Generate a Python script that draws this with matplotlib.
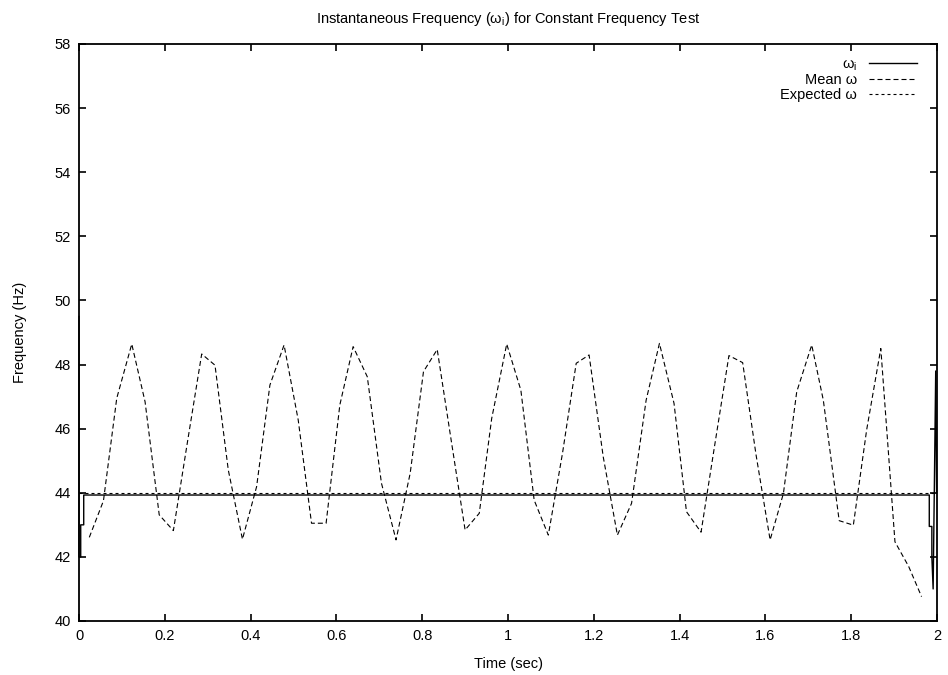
import matplotlib
matplotlib.use('Agg')
import matplotlib.pyplot as plt

plt.rcParams['font.family'] = ['Liberation Sans', 'DejaVu Sans']
plt.rcParams['mathtext.fontset'] = 'custom'
plt.rcParams['mathtext.rm'] = 'Liberation Sans'
plt.rcParams['mathtext.it'] = 'Liberation Sans:italic'

# mean omega
mean_t = [0.024, 0.057, 0.088, 0.123, 0.154, 0.187, 0.220, 0.253, 0.286, 0.317,
          0.348, 0.381, 0.414, 0.445, 0.478, 0.511, 0.542, 0.576, 0.608, 0.639,
          0.672, 0.705, 0.739, 0.772, 0.803, 0.835, 0.868, 0.900, 0.933, 0.962,
          0.997, 1.030, 1.061, 1.094, 1.127, 1.159, 1.189, 1.222, 1.255, 1.288,
          1.322, 1.353, 1.387, 1.416, 1.450, 1.482, 1.515, 1.547, 1.578, 1.611,
          1.642, 1.673, 1.708, 1.735, 1.772, 1.805, 1.836, 1.869, 1.902, 1.934,
          1.964]
mean_f = [42.61, 43.75, 46.95, 48.64, 46.84, 43.31, 42.82, 45.6, 48.33, 47.98,
          44.71, 42.55, 44.19, 47.36, 48.61, 46.27, 43.05, 43.05, 46.74, 48.56,
          47.62, 44.3, 42.53, 44.61, 47.78, 48.47, 45.6, 42.84, 43.36, 46.32,
          48.64, 47.2, 43.77, 42.68, 45.23, 48.04, 48.30, 45.12, 42.68, 43.67,
          46.89, 48.66, 46.79, 43.41, 42.77, 45.5, 48.28, 48.06, 45.2, 42.53,
          43.98, 47.15, 48.61, 46.89, 43.13, 42.99, 45.96, 48.5, 42.47, 41.7,
          40.76]

# instantaneous omega
inst_t = [0.0, 0.0, 0.004, 0.004, 0.011, 0.011, 1.982, 1.982, 1.988, 1.988, 1.991, 1.997, 1.999]
inst_f = [49.5, 42.0, 42.0, 43.0, 43.0, 43.93, 43.93, 42.95, 42.95, 42.0, 41.0, 47.8, 44.0]

# expected omega
exp_t = [0.0, 2.0]
exp_f = [44.0, 44.0]

fig = plt.figure(figsize=(9.48, 6.75), dpi=100)
ax = fig.add_axes([79/948, 1-621/675, (937-79)/948, (621-44)/675])

ax.plot(inst_t, inst_f, color='black', lw=1.0, label='ω$_{\\rm i}$', clip_on=False, zorder=3)
ax.plot(mean_t, mean_f, color='black', lw=0.8, dashes=(4.5, 2.7), label='Mean ω')
ax.plot(exp_t, exp_f, color='black', lw=0.8, dashes=(2.7, 2.7), label='Expected ω')

ax.set_xlim(0, 2)
ax.set_ylim(40, 58)
ax.set_xticks([0, 0.2, 0.4, 0.6, 0.8, 1, 1.2, 1.4, 1.6, 1.8, 2])
ax.set_xticklabels(['0', '0.2', '0.4', '0.6', '0.8', '1', '1.2', '1.4', '1.6', '1.8', '2'])
ax.set_yticks(range(40, 59, 2))
ax.tick_params(direction='in', top=True, right=True, length=5, width=1.2, labelsize=10.5, pad=6)
for s in ax.spines.values():
    s.set_linewidth(1.3)

ax.set_title('Instantaneous Frequency (ω$_{\\rm i}$) for Constant Frequency Test', fontsize=10.5, pad=15)
ax.set_xlabel('Time (sec)', fontsize=10.5, labelpad=10)
ax.set_ylabel('Frequency (Hz)', fontsize=10.5, labelpad=20)

ax.legend(loc='upper right', bbox_to_anchor=(1 - 7/858, 1), frameon=False, markerfirst=False,
          fontsize=10.5, handlelength=3.3, labelspacing=0.05, borderaxespad=0.5)

fig.savefig('out.png', dpi=100)
